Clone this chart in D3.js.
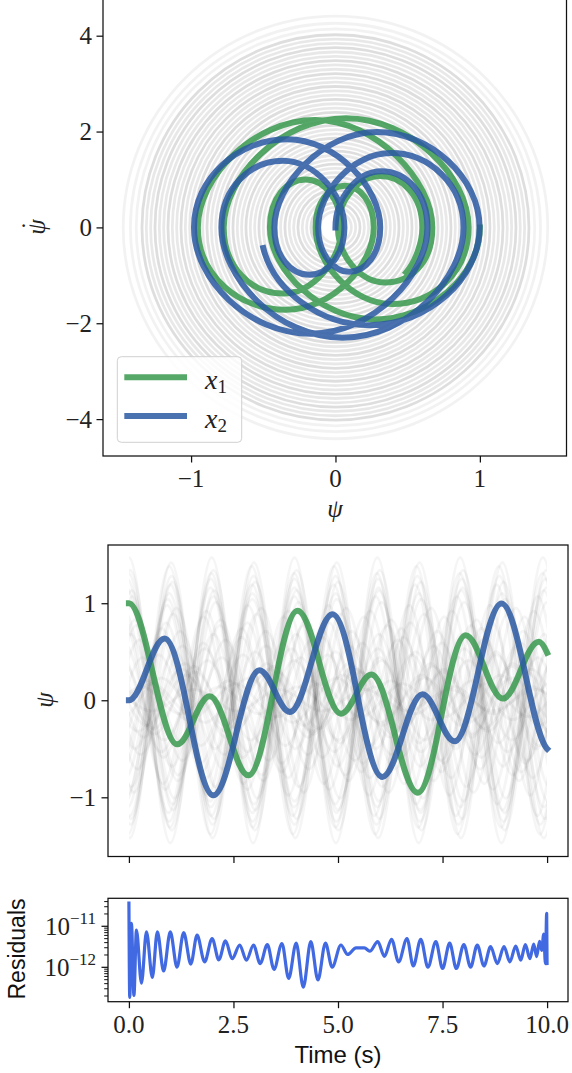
<!DOCTYPE html>
<html><head><meta charset="utf-8">
<script src="https://cdn.jsdelivr.net/npm/d3@7"></script>
<style>body{margin:0;background:#fff}svg{display:block}</style>
</head><body>
<svg id="c" width="572" height="1073"></svg>
<script>
// ---------- data ----------
// x1 (green): samples at extrema and midpoints
const greenT   = [0,0.575,1.15,1.54,1.93,2.395,2.86,3.445,4.03,4.55,5.07,5.435,5.80,6.355,6.91,7.48,8.05,8.495,8.94,9.37,9.80,10.0];
const greenPsi = [1.0,0.273,-0.454,-0.207,0.041,-0.367,-0.774,0.074,0.922,0.392,-0.138,0.064,0.265,-0.344,-0.953,-0.141,0.671,0.344,0.017,0.310,0.602,0.49];
const greenDot = [0,-1.92,0,1.00,0,-1.38,0,2.28,0,-1.60,0,0.87,0,-1.72,0,2.24,0,-1.15,0,1.07,0,-0.94];
const greenAcc = [-5.4,0,4.7,0,-4.3,0,5.4,0,-5.5,0,4.3,0,-4.3,0,5.5,0,-5.1,0,4.0,0,-4.6,-3.3];
// x2 (blue)
const blueT   = [0,0.427,0.854,1.437,2.02,2.57,3.12,3.485,3.85,4.36,4.87,5.465,6.06,6.54,7.02,7.405,7.79,8.35,8.91,9.495,10.0];
const bluePsi = [0,0.3185,0.637,-0.1715,-0.98,-0.335,0.31,0.095,-0.12,0.3835,0.887,0.0485,-0.79,-0.364,0.062,-0.18,-0.423,0.2875,0.998,0.239,-0.50];
const blueDot = [0,1.17,0,-2.22,0,1.84,0,-0.925,0,1.55,0,-2.30,0,1.39,0,-0.99,0,1.99,0,-2.04,-0.43];
const blueAcc = [4.3,0,-5.1,0,5.6,0,-4.6,0,4.4,0,-5.3,0,5.2,0,-4.3,0,4.8,0,-5.5,0,5.3];
// faint ensemble trajectories: amplitude, sign, time shift, half period
const ghostAmp   = [1.47,1.42,1.38,1.34,1.31,1.28,1.25,1.22,1.19,1.16,1.13,1.10,1.07,1.04,1.01,0.98,0.95,0.92,0.89,0.86,0.83,0.80,0.77,0.74,0.71,0.68,0.65,0.62,0.59,0.56,0.53,0.50,0.47,0.44,0.41,0.38,0.35,0.32,0.29,0.26,0.23,0.20,0.17,0.14,0.11];
const ghostSign  = [1,-1,-1,1,1,-1,1,-1,-1,1,1,-1,1,-1,1,-1,-1,1,-1,1,1,-1,1,-1,-1,1,-1,1,1,-1,1,-1,-1,1,1,-1,1,-1,1,-1,-1,1,-1,1,1];
const ghostShift = [0,0.02,-0.02,0.03,-0.01,0.04,-0.04,0.05,0.02,-0.06,0.07,-0.03,0.08,-0.08,0.10,-0.05,0.12,-0.11,0.06,-0.14,0.15,-0.09,0.18,-0.17,0.20,0.04,-0.22,0.25,-0.12,0.28,-0.26,0.14,-0.30,0.33,-0.20,0.36,-0.34,0.22,-0.40,0.42,-0.28,0.45,-0.45,0.30,-0.48];
const ghostHalf  = [0.99,0.99,0.985,0.995,0.99,0.98,1.0,0.99,0.975,1.005,0.985,0.995,0.97,1.01,0.99,0.965,1.015,0.98,1.0,0.96,1.02,0.975,1.0,0.955,1.025,0.99,0.97,1.03,0.95,1.0,1.035,0.96,1.01,0.945,1.04,0.98,0.95,1.045,0.99,0.94,1.05,0.97,1.0,0.935,1.02];
const ringOmega = 3.0; // ratio of psidot extent to psi extent of the faint rings in the phase plot
// residuals
const residT = [0,0.02,0.06,0.12,0.18,0.30,0.42,0.56,0.68,0.83,0.99,1.15,1.31,1.48,1.63,1.81,1.99,2.15,2.31,2.47,2.65,2.81,2.98,3.14,3.31,3.47,3.66,3.82,4.00,4.17,4.35,4.52,4.70,4.86,5.07,5.23,5.43,5.63,5.76,5.95,6.11,6.28,6.45,6.65,6.80,6.98,7.15,7.34,7.50,7.67,7.83,8.01,8.17,8.33,8.49,8.65,8.81,8.97,9.11,9.25,9.37,9.48,9.59,9.68,9.75,9.82,9.87,9.92,9.96,9.99,10.0];
const residVal = [3.9e-11,1.8e-13,1.15e-11,2.0e-13,7.9e-12,4.0e-13,7.1e-12,5.5e-13,7.1e-12,7.9e-13,7.1e-12,9.8e-13,6.8e-12,1.17e-12,5.9e-12,1.32e-12,4.9e-12,1.48e-12,4.3e-12,1.58e-12,3.4e-12,1.45e-12,3.4e-12,1.2e-12,3.5e-12,8.7e-13,3.7e-12,5.2e-13,3.8e-12,3.2e-13,4.1e-12,4.8e-13,3.8e-12,9.8e-13,3.4e-12,2.0e-12,2.9e-12,2.9e-12,2.4e-12,4.1e-12,1.8e-12,4.7e-12,1.32e-12,4.9e-12,1.05e-12,4.7e-12,9.8e-13,4.1e-12,9.1e-13,3.8e-12,9.1e-13,3.5e-12,9.8e-13,3.4e-12,1.05e-12,3.1e-12,1.2e-12,3.1e-12,1.32e-12,3.2e-12,1.45e-12,3.5e-12,1.58e-12,3.6e-12,1.78e-12,4.2e-12,2.5e-12,6.3e-12,1.2e-12,2.0e-11,1.1e-12];
// tick values
const phaseXTicks = [-1,0,1];
const phaseYTicks = [-4,-2,0,2,4];
const psiTicks = [-1,0,1];
const timeTicks = [0,2.5,5,7.5,10];
const timeTickLabels = ["0.0","2.5","5.0","7.5","10.0"];
const residMajor = [1e-11,1e-12];
const residMajorExp = ["−11","−12"];
const legendLabels = [{name:"x",sub:"1"},{name:"x",sub:"2"}];

// ---------- styling ----------
const GREEN = "rgb(55,153,77)", BLUE = "rgb(44,89,162)", OP = 0.85;
const SERIF = "'Liberation Serif','DejaVu Serif',serif";
const SANS = "'Liberation Sans','DejaVu Sans',sans-serif";
const TXT = "#222";

const svg = d3.select("#c");

function hermite(xs, ys, dxs, dys, ts, sx, sy) {
  const p = d3.path();
  p.moveTo(sx(xs[0]), sy(ys[0]));
  for (let i = 1; i < ts.length; i++) {
    const h = ts[i] - ts[i-1];
    p.bezierCurveTo(
      sx(xs[i-1] + dxs[i-1]*h/3), sy(ys[i-1] + dys[i-1]*h/3),
      sx(xs[i] - dxs[i]*h/3), sy(ys[i] - dys[i]*h/3),
      sx(xs[i]), sy(ys[i]));
  }
  return p.toString();
}
const ones = n => new Array(n).fill(1);
const zeros = n => new Array(n).fill(0);
const fmt = v => v < 0 ? "−" + Math.abs(v) : String(v);

function frame(g, x0, x1, y0, y1) {
  g.append("rect").attr("x", x0).attr("y", y0).attr("width", x1-x0).attr("height", y1-y0)
    .attr("fill", "none").attr("stroke", "#111").attr("stroke-width", 1.25);
}
function styleAxis(a, w) { a.select(".domain").remove(); a.selectAll("line").attr("stroke","#111").attr("stroke-width",w || 1.25); }

// ========== Panel 1: phase portrait ==========
const px = d3.scaleLinear().domain([-1.61, 1.60]).range([103, 566.5]);
const py = d3.scaleLinear().domain([-4.77, 4.77]).range([456, -1.2]);
const g1 = svg.append("g");
g1.append("defs").append("clipPath").attr("id","clip1").append("rect")
  .attr("x",103).attr("y",-1.2).attr("width",463.5).attr("height",457.2);
const gg1 = g1.append("g").attr("clip-path","url(#clip1)");
ghostAmp.forEach((A, i) => {
  gg1.append("ellipse")
    .attr("cx", px(0)).attr("cy", py(0))
    .attr("rx", px(A) - px(0)).attr("ry", py(0) - py(A*ringOmega))
    .attr("fill","none").attr("stroke","#000")
    .attr("stroke-opacity", A > 1.35 ? 0.05 : (i % 3 === 0 ? 0.13 : 0.09))
    .attr("stroke-width", 2.8);
});
gg1.append("path").attr("d", hermite(greenPsi, greenDot, greenDot, greenAcc, greenT, px, py))
  .attr("fill","none").attr("stroke",GREEN).attr("stroke-opacity",OP).attr("stroke-width",6).attr("stroke-linecap","square");
gg1.append("path").attr("d", hermite(bluePsi, blueDot, blueDot, blueAcc, blueT, px, py))
  .attr("fill","none").attr("stroke",BLUE).attr("stroke-opacity",OP).attr("stroke-width",6).attr("stroke-linecap","square");
frame(g1, 103, 566.5, -1.2, 456);
g1.append("g").attr("transform","translate(0,456)")
  .call(d3.axisBottom(px).tickValues(phaseXTicks).tickSize(6.5).tickFormat("")).call(a => styleAxis(a));
g1.append("g").attr("transform","translate(103,0)")
  .call(d3.axisLeft(py).tickValues(phaseYTicks).tickSize(6.5).tickFormat("")).call(a => styleAxis(a));
phaseXTicks.forEach(v => g1.append("text").attr("x", px(v)).attr("y", 487).attr("text-anchor","middle")
  .attr("font-family",SERIF).attr("font-size",25).attr("fill",TXT).text(fmt(v)));
phaseYTicks.forEach(v => g1.append("text").attr("x", 92).attr("y", py(v) + 8.5).attr("text-anchor","end")
  .attr("font-family",SERIF).attr("font-size",25).attr("fill",TXT).text(fmt(v)));
g1.append("text").attr("x", 335).attr("y", 517).attr("text-anchor","middle")
  .attr("font-family",SERIF).attr("font-style","italic").attr("font-size",25).attr("fill",TXT).text("ψ");
const yl1 = g1.append("text").attr("transform","translate(45,227) rotate(-90)").attr("text-anchor","middle")
  .attr("font-family",SERIF).attr("font-style","italic").attr("font-size",25).attr("fill",TXT);
yl1.append("tspan").text("ψ");
yl1.append("tspan").attr("x",1.5).attr("y",-6).attr("font-style","normal").text("˙");
// legend
const lg = g1.append("g");
lg.append("rect").attr("x",117.3).attr("y",356.7).attr("width",124.4).attr("height",85.6).attr("rx",4)
  .attr("fill","#fff").attr("fill-opacity",0.8).attr("stroke","#d0d0d0").attr("stroke-width",1);
[[GREEN, 377.3], [BLUE, 416]].forEach(([c, yy], i) => {
  lg.append("line").attr("x1",124.3).attr("x2",187).attr("y1",yy).attr("y2",yy)
    .attr("stroke",c).attr("stroke-opacity",OP).attr("stroke-width",6);
  const t = lg.append("text").attr("x",205).attr("y",yy+12).attr("font-family",SERIF).attr("font-size",28).attr("fill",TXT);
  t.append("tspan").attr("font-style","italic").text(legendLabels[i].name);
  t.append("tspan").attr("font-size",19).attr("dy",4).text(legendLabels[i].sub);
});

// ========== Panel 2: psi vs time ==========
const tx = d3.scaleLinear().domain([-0.5, 10.5]).range([108, 568]);
const ty = d3.scaleLinear().domain([-1.61, 1.60]).range([856.5, 545]);
const g2 = svg.append("g");
g2.append("defs").append("clipPath").attr("id","clip2").append("rect")
  .attr("x",tx(0)).attr("y",545).attr("width",tx(10)-tx(0)).attr("height",311.5);
const gg2 = g2.append("g").attr("clip-path","url(#clip2)");
ghostAmp.forEach((A, i) => {
  const ts = [], vs = [];
  for (let k = -1; ghostShift[i] + (k-1)*ghostHalf[i] < 10.5; k++) {
    ts.push(ghostShift[i] + k*ghostHalf[i]);
    vs.push(ghostSign[i] * A * (k % 2 === 0 ? 1 : -1));
  }
  gg2.append("path").attr("d", hermite(ts, vs, ones(ts.length), zeros(ts.length), ts, tx, ty))
    .attr("fill","none").attr("stroke","#000").attr("stroke-opacity",0.038).attr("stroke-width",3);
});
g2.append("path").attr("d", hermite(greenT, greenPsi, ones(greenT.length), greenDot, greenT, tx, ty))
  .attr("fill","none").attr("stroke",GREEN).attr("stroke-opacity",OP).attr("stroke-width",6).attr("stroke-linecap","square");
g2.append("path").attr("d", hermite(blueT, bluePsi, ones(blueT.length), blueDot, blueT, tx, ty))
  .attr("fill","none").attr("stroke",BLUE).attr("stroke-opacity",OP).attr("stroke-width",6).attr("stroke-linecap","square");
frame(g2, 108, 568, 545, 856.5);
g2.append("g").attr("transform","translate(0,856.5)")
  .call(d3.axisBottom(tx).tickValues(timeTicks).tickSize(6.5).tickFormat("")).call(a => styleAxis(a));
g2.append("g").attr("transform","translate(108,0)")
  .call(d3.axisLeft(ty).tickValues(psiTicks).tickSize(6.5).tickFormat("")).call(a => styleAxis(a));
psiTicks.forEach(v => g2.append("text").attr("x", 96).attr("y", ty(v) + 8.5).attr("text-anchor","end")
  .attr("font-family",SERIF).attr("font-size",25).attr("fill",TXT).text(fmt(v)));
g2.append("text").attr("transform","translate(53,700) rotate(-90)").attr("text-anchor","middle")
  .attr("font-family",SERIF).attr("font-style","italic").attr("font-size",25).attr("fill",TXT).text("ψ");

// ========== Panel 3: residuals ==========
const ry = d3.scaleLog().domain([Math.pow(10,-12.85), Math.pow(10,-10.33)]).range([1001.7, 898.3]);
const g3 = svg.append("g");
g3.append("path").datum(residT.map((t,i)=>[t, residVal[i]]))
  .attr("d", d3.line().x(d=>tx(d[0])).y(d=>ry(d[1])).curve(d3.curveMonotoneX))
  .attr("fill","none").attr("stroke","#4169e1").attr("stroke-width",3.2).attr("stroke-linejoin","round");
frame(g3, 108, 568, 898.3, 1001.7);
g3.append("g").attr("transform","translate(0,1001.7)")
  .call(d3.axisBottom(tx).tickValues(timeTicks).tickSize(6.5).tickFormat("")).call(a => styleAxis(a));
const minor = [];
[-13,-12,-11].forEach(d => { for (let m = 2; m <= 9; m++) { const v = m*Math.pow(10,d); if (v > ry.domain()[0] && v < ry.domain()[1]) minor.push(v); } });
g3.append("g").attr("transform","translate(108,0)")
  .call(d3.axisLeft(ry).tickValues(minor).tickSize(3.8).tickFormat("")).call(a => styleAxis(a, 1));
g3.append("g").attr("transform","translate(108,0)")
  .call(d3.axisLeft(ry).tickValues(residMajor).tickSize(6.5).tickFormat("")).call(a => styleAxis(a));
residMajor.forEach((v,i) => {
  const t = g3.append("text").attr("x", 96).attr("y", ry(v) + 9).attr("text-anchor","end")
    .attr("font-family",SERIF).attr("font-size",25).attr("fill",TXT);
  t.append("tspan").text("10");
  t.append("tspan").attr("font-size",17).attr("dy",-11).text(residMajorExp[i]);
});
timeTicks.forEach((v,i) => g3.append("text").attr("x", tx(v)).attr("y", 1033).attr("text-anchor","middle")
  .attr("font-family",SERIF).attr("font-size",25).attr("fill",TXT).text(timeTickLabels[i]));
g3.append("text").attr("x", 338).attr("y", 1063).attr("text-anchor","middle")
  .attr("font-family",SANS).attr("font-size",24).attr("fill","#111").text("Time (s)");
g3.append("text").attr("transform","translate(25,949) rotate(-90)").attr("text-anchor","middle")
  .attr("font-family",SANS).attr("font-size",23).attr("fill","#111").text("Residuals");
</script>
</body></html>
